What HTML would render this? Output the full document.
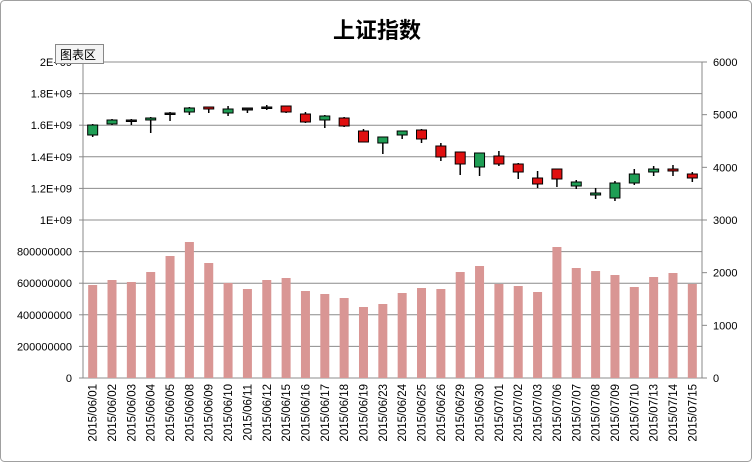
<!DOCTYPE html>
<html><head><meta charset="utf-8"><style>
html,body{margin:0;padding:0;background:#fff;}
svg{display:block;font-family:"Liberation Sans","Noto Sans CJK SC",sans-serif;}
</style></head><body>
<svg id="c" width="753" height="463" xmlns="http://www.w3.org/2000/svg">
<rect x="0.5" y="0.5" width="751" height="461" rx="4" fill="#fff" stroke="#a0a0a0"/>
<text x="377" y="38" text-anchor="middle" font-size="22" font-weight="bold" font-family="'Noto Sans CJK SC',sans-serif">上证指数</text>
</svg>
<script>
var s=document.getElementById('c'),ns='http://www.w3.org/2000/svg',h='';
var L=83,R=702,T=62,B=378;
for(var i=0;i<=10;i++){var y=T+(B-T)*i/10;h+='<line x1="'+L+'" x2="'+R+'" y1="'+y+'" y2="'+y+'" stroke="#8c8c8c" stroke-width="1"/>';}
var ll=['2E+09','1.8E+09','1.6E+09','1.4E+09','1.2E+09','1E+09','800000000','600000000','400000000','200000000','0'];
for(var i=0;i<=10;i++){var y=T+(B-T)*i/10;h+='<text x="72" y="'+(y+4)+'" text-anchor="end" font-size="11">'+ll[i]+'</text><line x1="'+(L-4)+'" x2="'+L+'" y1="'+y+'" y2="'+y+'" stroke="#888"/>';}
for(var i=0;i<=6;i++){var y=T+(B-T)*i/6;h+='<text x="713" y="'+(y+4)+'" font-size="11">'+(6000-i*1000)+'</text><line x1="'+R+'" x2="'+(R+5)+'" y1="'+y+'" y2="'+y+'" stroke="#888"/>';}
h+='<line x1="'+L+'" x2="'+L+'" y1="'+T+'" y2="'+B+'" stroke="#888"/><line x1="'+R+'" x2="'+R+'" y1="'+T+'" y2="'+B+'" stroke="#888"/>';
var d=['06/01','06/02','06/03','06/04','06/05','06/08','06/09','06/10','06/11','06/12','06/15','06/16','06/17','06/18','06/19','06/23','06/24','06/25','06/26','06/29','06/30','07/01','07/02','07/03','07/06','07/07','07/08','07/09','07/10','07/13','07/14','07/15'];
var bt=[285,280,282,272,256,242,263,283,289,280,278,291,294,298,307,304,293,288,289,272,266,284,286,292,247,268,271,275,287,277,273,284];
// [top,bottom,wickTop,wickBot,color]
var c=[[125,135,124,137,'g'],[120,124,119,125,'g'],[120,121,119,125,'k'],[118,120,117,133,'g'],[113,114,112,121,'k'],[108,112,107,115,'g'],[107,109,107,113,'r'],[109,113,106,116,'g'],[108,110,108,113,'k'],[107,108,105,110,'k'],[106,112,106,113,'r'],[114,122,112,123,'r'],[116,120,115,128,'g'],[118,126,117,127,'r'],[131,142,129,142,'r'],[137,143,137,154,'g'],[131,135,131,139,'g'],[130,139,129,143,'r'],[146,157,143,161,'r'],[152,164,152,175,'r'],[153,167,153,176,'g'],[156,164,151,166,'r'],[164,172,163,179,'r'],[178,184,171,188,'r'],[169,179,169,187,'r'],[182,186,180,189,'g'],[193,195,188,199,'g'],[183,198,181,201,'g'],[174,183,169,185,'g'],[169,172,166,176,'g'],[169,171,165,176,'r'],[174,178,172,182,'r']];
var w=(R-L)/32;
for(var i=0;i<32;i++){var x=L+w*(i+0.5);
h+='<rect x="'+(x-4.5)+'" y="'+bt[i]+'" width="9" height="'+(B-bt[i])+'" fill="#d99694"/>';
var k=c[i];h+='<line x1="'+x+'" x2="'+x+'" y1="'+k[2]+'" y2="'+k[3]+'" stroke="#000" stroke-width="1.5"/>';
var f=k[4]=='g'?'#1f9e55':k[4]=='r'?'#e01010':'#222';
h+='<rect x="'+(x-5)+'" y="'+k[0]+'" width="10" height="'+Math.max(k[1]-k[0],1.5)+'" fill="'+f+'" stroke="#000" stroke-width="1"/>';
h+='<text transform="translate('+(x+4)+',384) rotate(-90)" text-anchor="end" font-size="11.5">2015/'+d[i]+'</text>';}
h+='<g><rect x="55.5" y="44.5" width="48" height="19" fill="#f4f4f4" stroke="#888"/><text x="60" y="59" font-size="12" font-family="\'Noto Sans CJK SC\',sans-serif">图表区</text></g>';
s.insertAdjacentHTML('beforeend',h);
</script>
</body></html>
